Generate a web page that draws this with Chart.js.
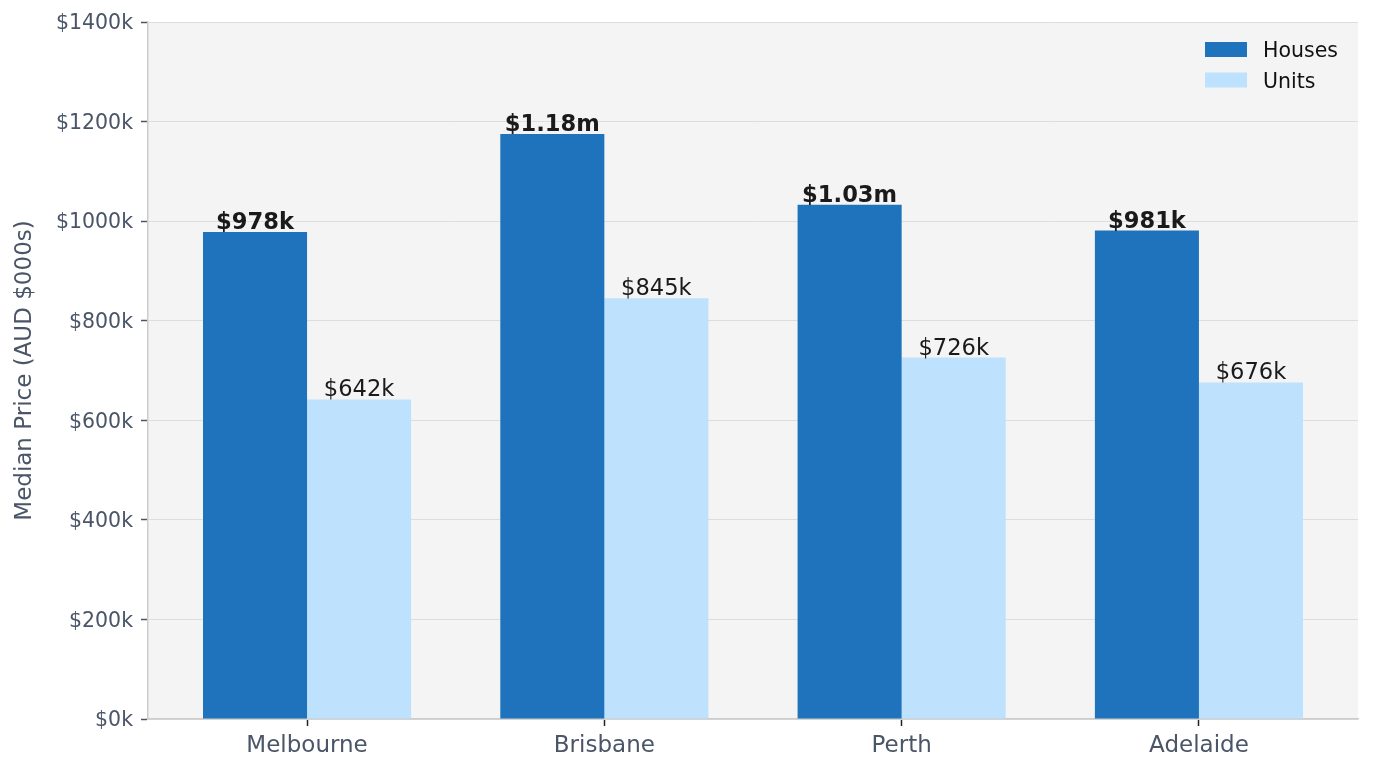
<!DOCTYPE html>
<html>
<head>
<meta charset="utf-8">
<script src="https://cdn.jsdelivr.net/npm/chart.js@4.4.1/dist/chart.umd.min.js"></script>
<style>
  html, body { margin: 0; padding: 0; background: #ffffff; }
  #wrap { width: 1373px; height: 772px; }
</style>
</head>
<body>
<div id="wrap"><canvas id="chart" width="1373" height="772"></canvas></div>
<script>
// data (AUD $000s)
var cities = ['Melbourne', 'Brisbane', 'Perth', 'Adelaide'];
var houses = [978, 1175, 1033, 981];
var units = [642, 845, 726, 676];
var yTicks = [0, 200, 400, 600, 800, 1000, 1200, 1400];

var houseColor = '#1f73bd';
var unitColor = '#bee2fd';
var tickText = '#4a5568';
var FONT = "'DejaVu Sans', sans-serif";

function fmtPrice(v) {
	if (v >= 1000) return '$' + (v / 1000).toFixed(2) + 'm';
	return '$' + v + 'k';
}

// grey plot background
var plotBg = {
	id: 'plotBg',
	beforeDraw: function(chart) {
		var a = chart.chartArea, c = chart.ctx;
		c.save();
		c.fillStyle = '#f4f4f4';
		c.fillRect(a.left, a.top, a.right - a.left, a.bottom - a.top);
		c.restore();
	}
};

// value labels on top of each bar
var barLabels = {
	id: 'barLabels',
	afterDatasetsDraw: function(chart) {
		var c = chart.ctx;
		c.save();
		c.textAlign = 'center';
		c.textBaseline = 'alphabetic';
		c.fillStyle = '#1a1a1a';
		chart.data.datasets.forEach(function(ds, di) {
			var meta = chart.getDatasetMeta(di);
			c.font = (di === 0 ? 'bold ' : '') + '22.6px ' + FONT;
			meta.data.forEach(function(bar, i) {
				c.fillText(fmtPrice(ds.data[i].y), bar.x, bar.y - 3);
			});
		});
		c.restore();
	}
};

// matplotlib-like legend in the upper right corner
var cornerLegend = {
	id: 'cornerLegend',
	afterDraw: function(chart) {
		var c = chart.ctx, a = chart.chartArea;
		c.save();
		c.font = '20.5px ' + FONT;
		c.textBaseline = 'middle';
		c.textAlign = 'left';
		chart.data.datasets.forEach(function(ds, i) {
			var y = a.top + 20 + i * 30.5;
			c.fillStyle = ds.backgroundColor;
			c.fillRect(a.right - 153, y, 42, 15);
			c.fillStyle = '#111111';
			c.fillText(ds.label, a.right - 95, y + 10);
		});
		c.restore();
	}
};

var ctx = document.getElementById('chart');
var chart = new Chart(ctx, {
	type: 'bar',
	data: {
		datasets: [
			{
				label: 'Houses',
				data: houses.map(function(v, i) { return { x: i, y: v }; }),
				backgroundColor: houseColor,
				categoryPercentage: 0.7,
				barPercentage: 1.0
			},
			{
				label: 'Units',
				data: units.map(function(v, i) { return { x: i, y: v }; }),
				backgroundColor: unitColor,
				categoryPercentage: 0.7,
				barPercentage: 1.0
			}
		]
	},
	options: {
		responsive: false,
		animation: false,
		devicePixelRatio: 1,
		layout: { padding: { left: 0, right: 15, top: 22, bottom: 0 } },
		plugins: {
			legend: { display: false },
			tooltip: { enabled: false }
		},
		scales: {
			x: {
				type: 'linear',
				min: -0.535,
				max: 3.535,
				offset: false,
				afterBuildTicks: function(s) {
					s.ticks = cities.map(function(c, i) { return { value: i }; });
				},
				afterFit: function(s) { s.height = 53; },
				grid: {
					offset: false,
					drawOnChartArea: false,
					color: 'rgba(0,0,0,0)',
					tickColor: '#222222',
					tickLength: 7,
					tickWidth: 1.5
				},
				border: { color: '#cccccc', width: 1.5 },
				ticks: {
					color: tickText,
					font: { family: FONT, size: 23 },
					padding: 6,
					maxRotation: 0,
					autoSkip: false,
					callback: function(v) { return cities[v]; }
				}
			},
			y: {
				min: 0,
				max: 1400,
				afterBuildTicks: function(s) {
					s.ticks = yTicks.map(function(v) { return { value: v }; });
				},
				afterFit: function(s) { s.width = 148; },
				grid: {
					color: '#dddddd',
					lineWidth: 1,
					tickColor: '#4a5568',
					tickLength: 7,
					tickWidth: 1.5
				},
				border: { color: '#cccccc', width: 1.5 },
				ticks: {
					color: tickText,
					font: { family: FONT, size: 20.5 },
					padding: 8,
					labelOffset: 2,
					callback: function(v) { return '$' + v + 'k'; }
				},
				title: {
					display: true,
					text: 'Median Price (AUD $000s)',
					color: tickText,
					font: { family: FONT, size: 23 },
					padding: { top: 11, bottom: 0 }
				}
			}
		}
	},
	plugins: [plotBg, barLabels, cornerLegend]
});
</script>
</body>
</html>
